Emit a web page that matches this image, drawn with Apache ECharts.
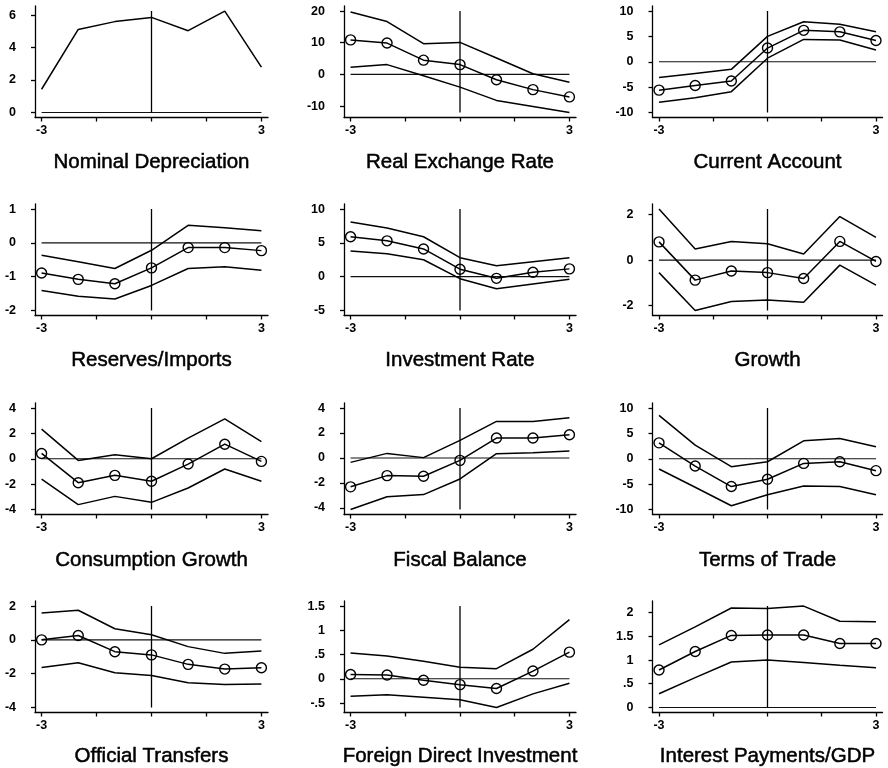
<!DOCTYPE html>
<html>
<head>
<meta charset="utf-8">
<script src="https://cdn.jsdelivr.net/npm/echarts@6/dist/echarts.min.js"></script>
<style>
  html, body { margin: 0; padding: 0; background: #fff; }
  #chart { width: 888px; height: 768px; }
</style>
</head>
<body>
<div id="chart"></div>
<script>
// Event window: years relative to the crisis
const periods = [-3, -2, -1, 0, 1, 2, 3];

const panelTitles = [
  'Nominal Depreciation', 'Real Exchange Rate', 'Current Account',
  'Reserves/Imports', 'Investment Rate', 'Growth',
  'Consumption Growth', 'Fiscal Balance', 'Terms of Trade',
  'Official Transfers', 'Foreign Direct Investment', 'Interest Payments/GDP'
];

// Nominal depreciation (single line)
const nominalDepreciation = [1.43, 5.12, 5.6, 5.86, 5.04, 6.25, 2.79];
const nominalTicks = [0, 2, 4, 6];

// Real exchange rate
const rerUpper = [19.7, 16.7, 9.7, 10.1, 5.2, 0.2, -2.5];
const rerMean  = [10.9, 9.9, 4.5, 3.1, -1.7, -4.8, -7.1];
const rerLower = [2.3, 3.1, -0.4, -4.0, -8.2, -10.1, -12.0];
const rerTicks = [-10, 0, 10, 20];

// Current account
const caUpper = [-3.1, -2.3, -1.5, 5.0, 7.9, 7.4, 5.9];
const caMean  = [-5.6, -4.7, -3.8, 2.7, 6.2, 5.9, 4.2];
const caLower = [-8.0, -7.1, -5.9, 0.7, 4.4, 4.3, 2.3];
const caTicks = [-10, -5, 0, 5, 10];

// Reserves / imports
const resUpper = [-0.37, -0.56, -0.76, -0.22, 0.52, 0.45, 0.36];
const resMean  = [-0.89, -1.08, -1.21, -0.74, -0.14, -0.14, -0.23];
const resLower = [-1.41, -1.58, -1.66, -1.26, -0.76, -0.71, -0.81];
const resTicks = [-2, -1, 0, 1];

// Investment rate
const invUpper = [8.1, 7.2, 5.9, 2.8, 1.6, 2.2, 2.8];
const invMean  = [5.9, 5.3, 4.1, 1.1, -0.25, 0.65, 1.15];
const invLower = [3.8, 3.4, 2.5, -0.3, -1.8, -1.1, -0.4];
const invTicks = [-5, 0, 5, 10];

// Growth
const grUpper = [2.24, 0.49, 0.82, 0.72, 0.27, 1.91, 1.0];
const grMean  = [0.8, -0.88, -0.48, -0.55, -0.81, 0.82, -0.06];
const grLower = [-0.55, -2.21, -1.82, -1.75, -1.85, -0.22, -1.1];
const grTicks = [-2, 0, 2];

// Consumption growth
const conUpper = [2.34, -0.13, 0.31, 0.0, 1.63, 3.15, 1.36];
const conMean  = [0.42, -1.89, -1.31, -1.78, -0.42, 1.15, -0.21];
const conLower = [-1.6, -3.62, -2.97, -3.44, -2.31, -0.81, -1.78];
const conTicks = [-4, -2, 0, 2, 4];

// Fiscal balance
const fisUpper = [-0.35, 0.37, 0.03, 1.41, 2.93, 2.93, 3.22];
const fisMean  = [-2.31, -1.41, -1.46, -0.19, 1.6, 1.6, 1.86];
const fisLower = [-4.12, -3.11, -2.93, -1.68, 0.35, 0.43, 0.56];
const fisTicks = [-4, -2, 0, 2, 4];

// Terms of trade
const totUpper = [8.56, 2.68, -1.57, -0.59, 3.53, 3.99, 2.35];
const totMean  = [3.14, -1.44, -5.49, -4.05, -0.92, -0.59, -2.35];
const totLower = [-2.03, -5.62, -9.28, -7.12, -5.36, -5.49, -7.12];
const totTicks = [-10, -5, 0, 5, 10];

// Official transfers
const otUpper = [1.59, 1.75, 0.66, 0.3, -0.4, -0.8, -0.66];
const otMean  = [0.0, 0.26, -0.7, -0.89, -1.45, -1.73, -1.65];
const otLower = [-1.63, -1.35, -1.95, -2.11, -2.54, -2.64, -2.62];
const otTicks = [-4, -2, 0, 2];

// Foreign direct investment
const fdiUpper = [0.53, 0.47, 0.36, 0.24, 0.21, 0.61, 1.22];
const fdiMean  = [0.09, 0.08, -0.03, -0.12, -0.2, 0.16, 0.55];
const fdiLower = [-0.36, -0.33, -0.38, -0.43, -0.59, -0.31, -0.09];
const fdiTicks = [-0.5, 0, 0.5, 1, 1.5];

// Interest payments / GDP
const intUpper = [1.32, 1.7, 2.1, 2.09, 2.14, 1.82, 1.81];
const intMean  = [0.79, 1.18, 1.52, 1.53, 1.53, 1.35, 1.35];
const intLower = [0.29, 0.63, 0.96, 1.0, 0.95, 0.89, 0.84];
const intTicks = [0, 0.5, 1, 1.5, 2];

const xTicks = [-3, -1.5, 0, 1.5, 3];
const xLabels = [-3, 3];

const panels = [
  { mean: nominalDepreciation, upper: null, lower: null, ticks: nominalTicks, markers: false },
  { mean: rerMean, upper: rerUpper, lower: rerLower, ticks: rerTicks, markers: true },
  { mean: caMean, upper: caUpper, lower: caLower, ticks: caTicks, markers: true },
  { mean: resMean, upper: resUpper, lower: resLower, ticks: resTicks, markers: true },
  { mean: invMean, upper: invUpper, lower: invLower, ticks: invTicks, markers: true },
  { mean: grMean, upper: grUpper, lower: grLower, ticks: grTicks, markers: true },
  { mean: conMean, upper: conUpper, lower: conLower, ticks: conTicks, markers: true },
  { mean: fisMean, upper: fisUpper, lower: fisLower, ticks: fisTicks, markers: true },
  { mean: totMean, upper: totUpper, lower: totLower, ticks: totTicks, markers: true },
  { mean: otMean, upper: otUpper, lower: otLower, ticks: otTicks, markers: true },
  { mean: fdiMean, upper: fdiUpper, lower: fdiLower, ticks: fdiTicks, markers: true },
  { mean: intMean, upper: intUpper, lower: intLower, ticks: intTicks, markers: true }
];

// Layout of the 4 x 3 panel grid
const colLeft = [35, 344, 652.5];
const colWidth = [233, 232, 230];
const rowTop = [6, 204, 403, 601];
const rowHeight = 111.5;
const titleY = [162.5, 360, 560, 756];
const X_PAD = 0.18;

const FONT = '"Liberation Sans", Arial, Helvetica, sans-serif';

function fmtTick(v) {
  return String(v).replace(/^(-?)0\./, '$1.');
}
function pairs(arr) {
  return periods.map((p, k) => [p, arr[k]]);
}

const grids = [], xAxes = [], yAxes = [], series = [], texts = [];

panels.forEach((pan, i) => {
  const r = Math.floor(i / 3), c = i % 3;
  grids.push({ left: colLeft[c], top: rowTop[r], width: colWidth[c], height: rowHeight, containLabel: false });

  const all = pan.ticks.concat(pan.mean, pan.upper || [], pan.lower || []);
  const lo = Math.min(...all), hi = Math.max(...all);
  const pad = (hi - lo) * 0.05;

  xAxes.push({
    type: 'value', gridIndex: i, min: -3 - X_PAD, max: 3 + X_PAD,
    axisLine: { show: true, onZero: false, lineStyle: { color: '#000', width: 1.3 } },
    axisTick: { show: true, length: 4, customValues: xTicks, lineStyle: { color: '#000', width: 1.3 } },
    axisLabel: { customValues: xLabels, margin: 7, color: '#000', fontFamily: FONT, fontWeight: 'bold', fontSize: 12.5 },
    splitLine: { show: false }
  });
  yAxes.push({
    type: 'value', gridIndex: i, min: lo - pad, max: hi + pad,
    axisLine: { show: true, onZero: false, lineStyle: { color: '#000', width: 1.3 } },
    axisTick: { show: true, length: 4, customValues: pan.ticks, lineStyle: { color: '#000', width: 1.3 } },
    axisLabel: { customValues: pan.ticks, formatter: fmtTick, margin: 19, color: '#000', fontFamily: FONT, fontWeight: 'bold', fontSize: 12.5 },
    splitLine: { show: false }
  });

  const base = { type: 'line', xAxisIndex: i, yAxisIndex: i, silent: true, animation: false };
  // zero reference line and event-date line
  series.push(Object.assign({}, base, {
    data: [[-3, 0], [3, 0]], symbol: 'none', lineStyle: { color: '#111', width: 1.1 }
  }));
  series.push(Object.assign({}, base, {
    data: [[0, lo], [0, hi]], symbol: 'none', lineStyle: { color: '#000', width: 1.3 }
  }));
  if (pan.upper) {
    series.push(Object.assign({}, base, { data: pairs(pan.upper), symbol: 'none', lineStyle: { color: '#000', width: 1.5 } }));
    series.push(Object.assign({}, base, { data: pairs(pan.lower), symbol: 'none', lineStyle: { color: '#000', width: 1.5 } }));
  }
  series.push(Object.assign({}, base, {
    data: pairs(pan.mean),
    symbol: pan.markers ? 'circle' : 'none',
    symbolSize: 10,
    itemStyle: { color: 'rgba(0,0,0,0)', borderColor: '#000', borderWidth: 1.4 },
    lineStyle: { color: '#000', width: 1.5 }
  }));

  texts.push({
    type: 'text', silent: true,
    x: colLeft[c] + colWidth[c] / 2, y: titleY[r],
    style: {
      text: panelTitles[i], fill: '#000', font: '20.5px ' + FONT,
      align: 'center', verticalAlign: 'middle',
      stroke: '#000', lineWidth: 0.5
    }
  });
});

const chart = echarts.init(document.getElementById('chart'), null, { renderer: 'canvas' });
chart.setOption({
  backgroundColor: '#fff',
  animation: false,
  grid: grids,
  xAxis: xAxes,
  yAxis: yAxes,
  series: series,
  graphic: texts
});
</script>
</body>
</html>
